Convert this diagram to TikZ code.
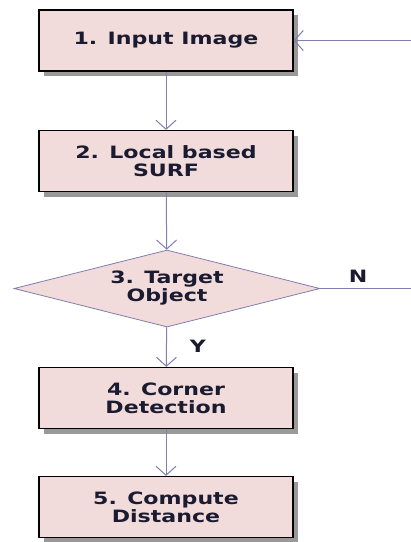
\documentclass[tikz,border=0pt]{standalone}
\usepackage{fontspec}
\newfontfamily\flowfont[FakeStretch=1.3]{DejaVu Sans}
\usepackage{tikz}
\usetikzlibrary{shapes.geometric,arrows.meta,shadows}
\definecolor{boxpink}{HTML}{F2DCDB}
\definecolor{flowline}{HTML}{7F7FB0}
\definecolor{textnavy}{HTML}{1A1A30}

\tikzset{
  steptext/.style={font=\flowfont\bfseries\fontsize{17}{18}\selectfont,text=textnavy},
  stepbox/.style={steptext,draw=black,line width=1.2pt,fill=boxpink,
    minimum width=254pt,minimum height=61pt,align=center,
    drop shadow={shadow xshift=5pt,shadow yshift=-5pt,fill=gray!80,opacity=1}},
  decision/.style={steptext,diamond,aspect=4,draw=flowline,line width=0.8pt,fill=boxpink,
    minimum width=306pt,minimum height=77pt,inner sep=0pt,align=center},
  flow/.style={draw=flowline,line width=1pt,-{Straight Barb[length=9pt,width=20pt]}}
}

\begin{document}
\begin{tikzpicture}[x=1pt,y=-1pt]
\useasboundingbox (0,0) rectangle (411,542);

\node[stepbox] (input) at (166,40.5) {1. Input Image};
\node[stepbox] (surf) at (166,161) {2. Local based\\SURF};
\node[decision] (target) at (167,288.5) {3. Target\\Object};
\node[stepbox] (corner) at (166,398) {4. Corner\\Detection};
\node[stepbox] (dist) at (166,507) {5. Compute\\Distance};

% Labels
\node[steptext] (nlabel) at (358,276) {N};
\node[steptext] (ylabel) at (198,346) {Y};

\coordinate (backlow) at (411,288.5);
\coordinate (backhigh) at (411,40.5);

\draw[flow] (input) -- (surf);
\draw[flow] (surf) -- (target);
\draw[flow] (target) -- (corner);
\draw[flow] (corner) -- (dist);
\draw[draw=flowline,line width=1pt] (target.east) -- (backlow);
\draw[flow] (backhigh) -- (input.east);
\end{tikzpicture}
\end{document}
